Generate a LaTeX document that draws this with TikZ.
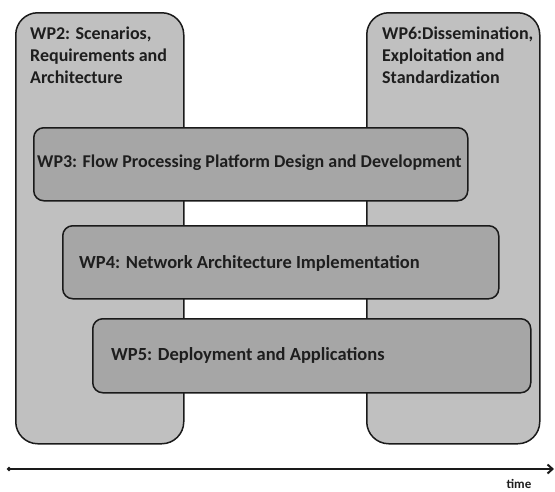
\documentclass[tikz,border=0pt]{standalone}
\usepackage{fontspec}
\setmainfont{Carlito}
\usetikzlibrary{arrows.meta}
\definecolor{outerfill}{HTML}{C0C0C0}
\definecolor{innerfill}{HTML}{A6A6A6}
\definecolor{edgecol}{HTML}{1A1A1A}
\definecolor{txtcol}{HTML}{1E1E1E}
\begin{document}
\begin{tikzpicture}[x=1pt,y=-1pt,
  outerbox/.style={draw=edgecol, line width=1.5pt, fill=outerfill, rounded corners=22pt, anchor=north west, inner sep=0pt},
  innerbox/.style={draw=edgecol, line width=1.5pt, fill=innerfill, rounded corners=10pt, anchor=north west, inner sep=0pt},
  wplabel/.style={font=\bfseries\fontsize{18.5}{22}\selectfont, text=txtcol, inner sep=0pt},
  sidelabel/.style={font=\bfseries\fontsize{18}{22}\selectfont, text=txtcol, inner sep=0pt, anchor=north west, align=left},
  timelabel/.style={font=\bfseries\fontsize{13}{15}\selectfont, text=txtcol, inner sep=0pt},
  timeline/.style={draw=edgecol, line width=2pt, {Circle[length=4pt]}-{Straight Barb[length=5pt,width=9pt]}}]
\useasboundingbox (0,0) rectangle (555,491);
% outer boxes
\node[outerbox, minimum width=168pt, minimum height=431pt] (wp2) at (15,12) {};
\node[outerbox, minimum width=173pt, minimum height=431pt] (wp6) at (366,12) {};
\node[sidelabel] (wp2t) at (30,27) {WP2: Scenarios,\\Requirements and\\Architecture};
\node[sidelabel] (wp6t) at (382,27) {WP6:Dissemination,\\Exploitation and\\Standardization};
% inner boxes
\node[innerbox, minimum width=434pt, minimum height=73pt] (wp3) at (33,127) {};
\node[innerbox, minimum width=436pt, minimum height=73pt] (wp4) at (62,225) {};
\node[innerbox, minimum width=438pt, minimum height=74pt] (wp5) at (92,318) {};
\node[wplabel, anchor=west, font=\bfseries\fontsize{18}{22}\selectfont] (wp3t) at (37,163) {WP3: Flow Processing Platform Design and Development};
\node[wplabel, anchor=west] (wp4t) at (79,263) {WP4: Network Architecture Implementation};
\node[wplabel, anchor=west] (wp5t) at (111,355) {WP5: Deployment and Applications};
% time axis
\coordinate (tstart) at (7,469);
\coordinate (tend) at (554,469);
\draw[timeline] (tstart) -- (tend);
\node[timelabel] (time) at (519,484) {time};
\end{tikzpicture}
\end{document}
